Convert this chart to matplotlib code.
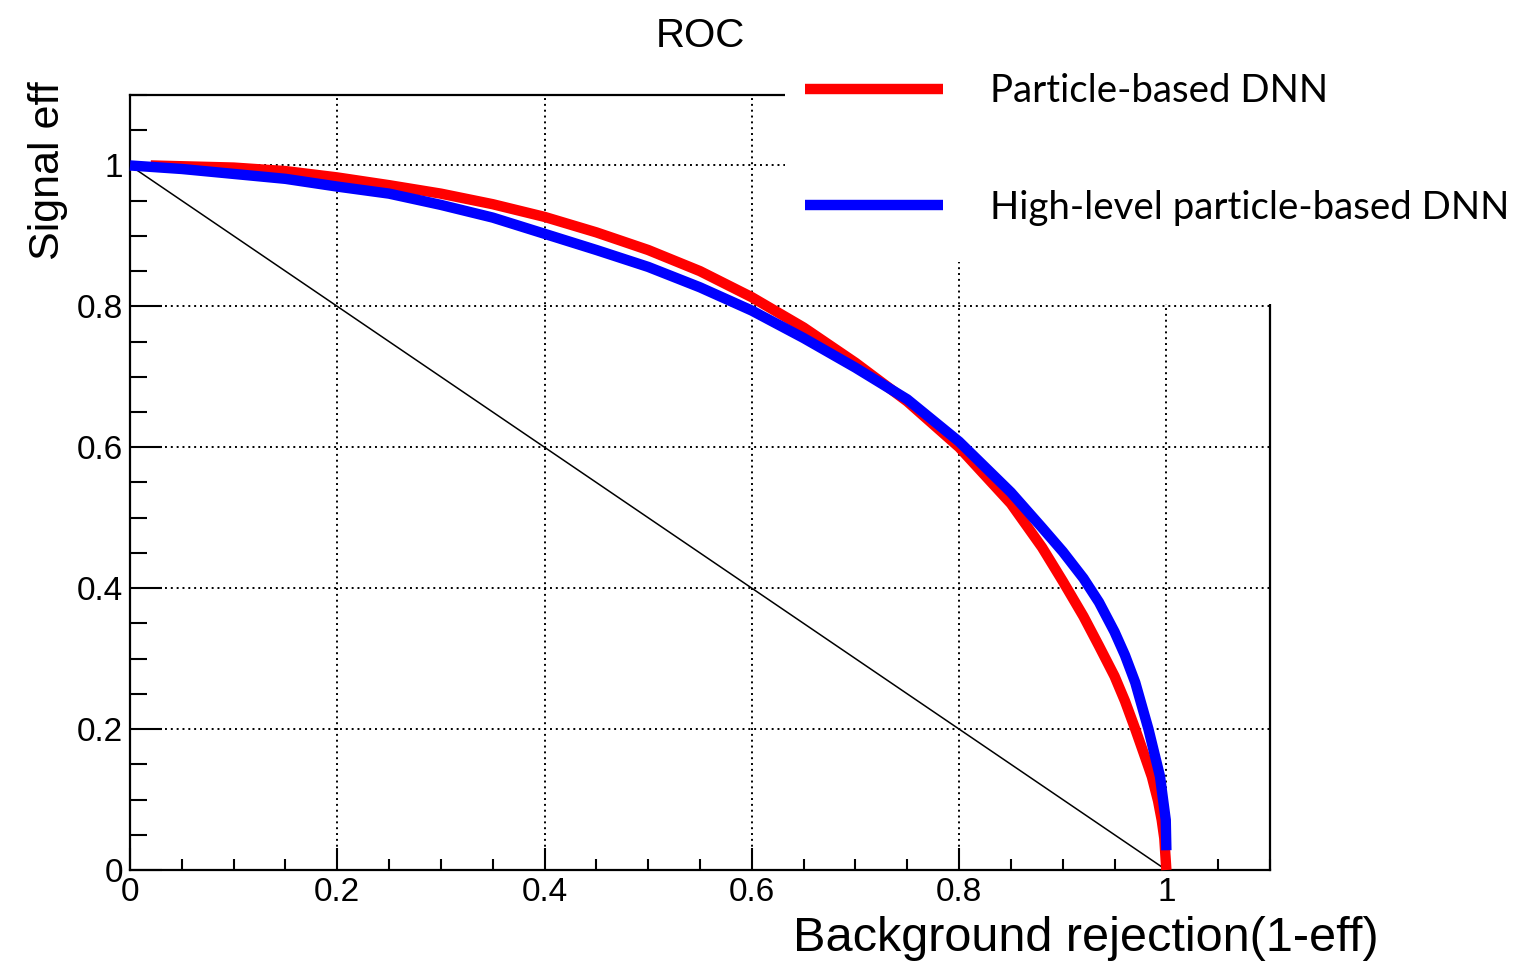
import matplotlib
matplotlib.use("Agg")
import matplotlib.pyplot as plt
from matplotlib.patches import Rectangle
from matplotlib.ticker import MultipleLocator

# ROC curves: background rejection (1 - eff) vs signal efficiency
particle_x = [0.02, 0.1, 0.15, 0.2, 0.25, 0.3, 0.35, 0.4, 0.45, 0.5, 0.55, 0.6,
              0.65, 0.7, 0.75, 0.8, 0.85, 0.88, 0.9, 0.92, 0.935, 0.95, 0.96,
              0.97, 0.98, 0.986, 0.992, 0.9955, 0.998, 1.0]
particle_y = [1.0, 0.997, 0.992, 0.983, 0.972, 0.960, 0.945, 0.927, 0.905, 0.880,
              0.850, 0.813, 0.770, 0.720, 0.665, 0.600, 0.520, 0.458, 0.410, 0.360,
              0.318, 0.275, 0.240, 0.200, 0.158, 0.1325, 0.098, 0.071, 0.045, 0.0]

highlevel_x = [0.0, 0.05, 0.1, 0.15, 0.2, 0.25, 0.3, 0.35, 0.4, 0.45, 0.5, 0.55,
               0.6, 0.65, 0.7, 0.75, 0.8, 0.85, 0.88, 0.9, 0.92, 0.935, 0.95, 0.96,
               0.97, 0.9827, 0.9939, 0.9994, 1.0]
highlevel_y = [1.0, 0.995, 0.988, 0.981, 0.970, 0.960, 0.944, 0.926, 0.903, 0.880,
               0.856, 0.827, 0.794, 0.755, 0.713, 0.668, 0.608, 0.536, 0.486, 0.452,
               0.414, 0.380, 0.338, 0.305, 0.266, 0.200, 0.1325, 0.071, 0.028]

random_x = [0.0, 1.0]
random_y = [1.0, 0.0]

labels = ["Particle-based DNN", "High-level particle-based DNN"]
tick_values = [0, 0.2, 0.4, 0.6, 0.8, 1.0]
tick_labels = ["0", "0.2", "0.4", "0.6", "0.8", "1"]

W, H = 1517, 972
fig = plt.figure(figsize=(W / 100, H / 100), dpi=100)
fig.patch.set_facecolor("white")

ax = fig.add_axes([130 / W, 1 - 870 / H, 1140 / W, 775 / H])
ax.set_xlim(0, 1.1)
ax.set_ylim(0, 1.1)

ax.plot(random_x, random_y, color="black", lw=1.1, zorder=2)
red, = ax.plot(particle_x, particle_y, color="#ff0000", lw=7.5,
               solid_capstyle="butt", solid_joinstyle="round", clip_on=False, zorder=3)
blue, = ax.plot(highlevel_x, highlevel_y, color="#0000ff", lw=7.5,
                solid_capstyle="butt", solid_joinstyle="round", clip_on=False, zorder=4)

# axis ticks, ROOT style (inward, left/bottom only)
tick_font = dict(family=["Liberation Sans", "DejaVu Sans"], size=24)
ax.set_xticks(tick_values)
ax.set_xticklabels(tick_labels, fontdict=tick_font)
ax.set_yticks(tick_values)
ax.set_yticklabels(tick_labels, fontdict=tick_font)
ax.xaxis.set_minor_locator(MultipleLocator(0.05))
ax.yaxis.set_minor_locator(MultipleLocator(0.05))
ax.tick_params(axis="x", which="major", direction="in", length=16, width=1.5, pad=5)
ax.tick_params(axis="x", which="minor", direction="in", length=8, width=1.5)
ax.tick_params(axis="y", which="major", direction="in", length=23, width=1.5, pad=5)
ax.tick_params(axis="y", which="minor", direction="in", length=12, width=1.5)
ax.tick_params(top=False, right=False, which="both")
for s in ax.spines.values():
    s.set_linewidth(1.6)

ax.grid(True, which="major", color="black", linestyle=(0, (1, 2)), lw=1.4)
ax.set_axisbelow(True)

ax.set_title("ROC", family=["Liberation Sans", "DejaVu Sans"], fontsize=29,
             y=1.062, pad=0)
ax.set_xlabel("Background rejection(1-eff)", family=["Liberation Sans", "DejaVu Sans"],
              fontsize=35, ha="right", va="center")
ax.xaxis.set_label_coords(1.095, -0.088)
ax.set_ylabel("Signal eff", family=["Liberation Sans", "DejaVu Sans"],
              fontsize=31, ha="center", va="center")
ax.yaxis.set_label_coords(-0.072, 0.902)

# white backing behind the legend block
fig.add_artist(Rectangle((785 / W, 1 - 262 / H), 1, 1, transform=fig.transFigure,
                         facecolor="white", edgecolor="none", zorder=3))
fig.add_artist(Rectangle((1010 / W, 1 - 304 / H), 1, 1, transform=fig.transFigure,
                         facecolor="white", edgecolor="none", zorder=3))

F = 27.6 * 100 / 72
leg = fig.legend([red, blue], labels, loc="upper left",
                 bbox_to_anchor=(805 / W, 1 - 73 / H), frameon=False, borderpad=0,
                 borderaxespad=0, handlelength=138 / F, handletextpad=47 / F,
                 labelspacing=2.1,
                 prop=dict(family=["Lato", "DejaVu Sans"], size=27.6))
leg.set_zorder(6)

fig.savefig("out.png", dpi=100)
